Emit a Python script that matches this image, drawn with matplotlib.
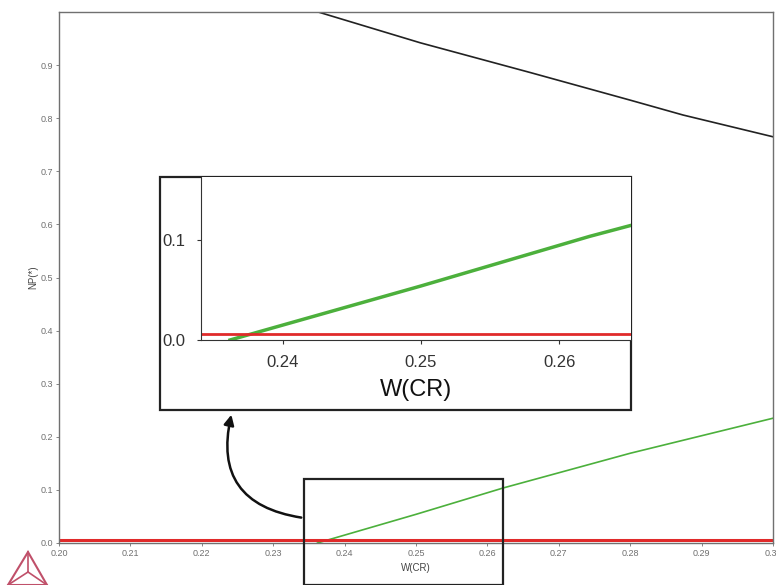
import numpy as np
import matplotlib
matplotlib.use('Agg')
import matplotlib.pyplot as plt
from matplotlib.patches import Rectangle, FancyArrowPatch, Polygon

plt.rcParams['font.family'] = ['Liberation Sans', 'DejaVu Sans']

# data
black_x = [0.20, 0.2363, 0.2506, 0.2660, 0.2800, 0.2874, 0.30]
black_y = [1.0, 1.0, 0.942, 0.886, 0.834, 0.806, 0.765]
green_x = [0.2362, 0.25, 0.2622, 0.28, 0.30]
green_y = [0.0, 0.054, 0.1036, 0.169, 0.235]
red_x = [0.20, 0.30]
red_y = [0.006, 0.006]

x_ticks = [0.20, 0.21, 0.22, 0.23, 0.24, 0.25, 0.26, 0.27, 0.28, 0.29, 0.30]
y_ticks = [0.0, 0.1, 0.2, 0.3, 0.4, 0.5, 0.6, 0.7, 0.8, 0.9]
inset_xticks = [0.24, 0.25, 0.26]
inset_yticks = [0.0, 0.1]

W, H = 776, 585
fig = plt.figure(figsize=(W / 100, H / 100), dpi=100)

def fx(px):
    return px / W

def fy(py):
    return 1 - py / H

grey = '#707070'
ax = fig.add_axes([fx(59), fy(543), fx(773) - fx(59), fy(12) - fy(543)])
ax.plot(black_x, black_y, color='#222222', lw=1.2)
ax.plot(green_x, green_y, color='#4cb03c', lw=1.2)
ax.plot(red_x, red_y, color='#e02a2a', lw=2.2)
ax.set_xlim(0.20, 0.30)
ax.set_ylim(0.0, 1.0)
ax.set_xticks(x_ticks)
ax.set_xticklabels([f'{v:.2f}' for v in x_ticks])
ax.set_yticks(y_ticks)
ax.set_yticklabels([f'{v:.1f}' for v in y_ticks])
ax.tick_params(labelsize=6.5, colors=grey, length=2, width=0.6, pad=2)
for s in ax.spines.values():
    s.set_color(grey)
    s.set_linewidth(1.0)
ax.set_xlabel('W(CR)', fontsize=7, color='#444444', labelpad=4)
ax.set_ylabel('NP(*)', fontsize=7, color='#444444', labelpad=2)

# zoom box in the main plot
ax.add_patch(Rectangle((0.2343, -0.08), 0.2622 - 0.2343, 0.20, fill=False,
                       edgecolor='#222222', lw=1.6, clip_on=False, zorder=5))

# inset frame and axes
fig.patches.append(Rectangle((fx(160), fy(410)), fx(631) - fx(160), fy(177) - fy(410),
                             transform=fig.transFigure, fill=True, facecolor='white',
                             edgecolor='#222222', lw=1.6, zorder=3))
ins = fig.add_axes([fx(201), fy(340), fx(631) - fx(201), fy(177) - fy(340)], zorder=4)
ins.plot(green_x, green_y, color='#4cb03c', lw=2.5)
ins.plot(red_x, red_y, color='#e02a2a', lw=2.0)
ins.set_xlim(0.2341, 0.2652)
ins.set_ylim(0.0, 0.163)
ins.set_xticks(inset_xticks)
ins.set_xticklabels([f'{v:.2f}' for v in inset_xticks])
ins.set_yticks(inset_yticks)
ins.set_yticklabels([f'{v:.1f}' for v in inset_yticks])
ins.tick_params(labelsize=12, colors='#333333', length=3, width=0.8, pad=8)
ins.spines['top'].set_visible(False)
ins.spines['right'].set_visible(False)
ins.spines['left'].set_color('#333333')
ins.spines['bottom'].set_color('#333333')
ins.set_xlabel('W(CR)', fontsize=17, color='#111111', labelpad=6)

# curved arrow from zoom box to inset
arr = FancyArrowPatch((fx(304), fy(518)), (fx(232), fy(412)), transform=fig.transFigure,
                      connectionstyle='arc3,rad=-0.55', arrowstyle='-|>,head_length=6,head_width=3',
                      color='#111111', lw=1.8, zorder=6)
fig.patches.append(arr)

# small triangle logo
c = '#c0506a'
tri = [(fx(8), fy(585)), (fx(28), fy(552)), (fx(47), fy(585))]
fig.patches.append(Polygon(tri, closed=True, fill=False, edgecolor=c, lw=1.5,
                           transform=fig.transFigure))
for p in tri:
    fig.add_artist(plt.Line2D([p[0], fx(28)], [p[1], fy(572)], color=c, lw=1.2,
                              transform=fig.transFigure))

fig.savefig('out.png', dpi=100)
